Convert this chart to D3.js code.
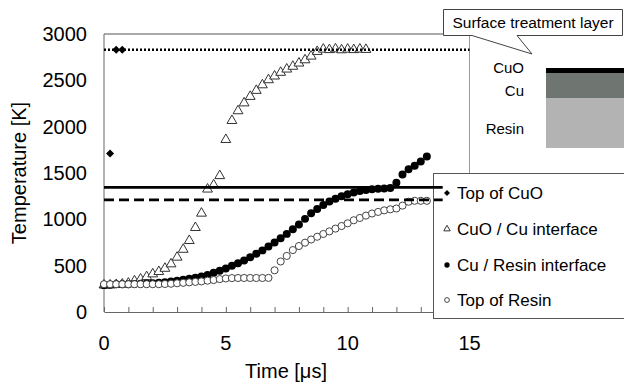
<!DOCTYPE html>
<html>
<head>
<meta charset="utf-8">
<title>Temperature vs time</title>
<script src="https://cdn.jsdelivr.net/npm/d3@7"></script>
<style>
  body { margin: 0; background: #fff; }
  text { font-family: "Liberation Sans", Arial, sans-serif; fill: #000; }
</style>
</head>
<body>
<svg id="chart" width="624" height="387"></svg>
<script>
// 1. data
var timeSteps = [0, 0.25, 0.5, 0.75, 1, 1.25, 1.5, 1.75, 2, 2.25,
  2.5, 2.75, 3, 3.25, 3.5, 3.75, 4, 4.25, 4.5, 4.75,
  5, 5.25, 5.5, 5.75, 6, 6.25, 6.5, 6.75, 7, 7.25,
  7.5, 7.75, 8, 8.25, 8.5, 8.75, 9, 9.25, 9.5, 9.75,
  10, 10.25, 10.5, 10.75, 11, 11.25, 11.5, 11.75, 12, 12.25,
  12.5, 12.75, 13, 13.25];

var topCuO = [300, 1710, 2830, 2830];

var cuoCuInterface = [290, 290, 295, 300, 310, 335, 355, 380, 410, 435,
  470, 518, 590, 675, 770, 910, 1065, 1325, 1370, 1470,
  1860, 2065, 2170, 2255, 2325, 2390, 2450, 2505, 2545, 2585,
  2620, 2650, 2685, 2720, 2760, 2810, 2835, 2830, 2838, 2828,
  2835, 2830, 2836, 2832];

var cuResinInterface = [290, 295, 300, 300, 300, 302, 305, 307, 310, 315,
  320, 328, 337, 347, 358, 370, 383, 400, 423, 446,
  470, 498, 527, 556, 592, 628, 665, 708, 750, 797,
  843, 893, 945, 1005, 1065, 1112, 1155, 1192, 1222, 1248,
  1270, 1290, 1306, 1317, 1324, 1329, 1332, 1337, 1395, 1485,
  1540, 1578, 1625, 1678];

var topResin = [300, 300, 300, 300, 300, 300, 300, 300, 300, 300,
  302, 305, 310, 315, 320, 325, 330, 338, 345, 355,
  362, 366, 367, 367, 367, 367, 367, 368, 450, 545,
  605, 668, 712, 748, 782, 812, 842, 870, 900, 928,
  957, 990, 1015, 1040, 1063, 1080, 1097, 1108, 1117, 1148,
  1190, 1200, 1200, 1200];

// horizontal reference levels [K] and where they stop [us]
var refLevels = [2830, 1345, 1210];
var refEnds = [15, 13.9, 13.9];
var refStyles = ["dotted", "solid", "dashed"];

var legendLabels = ["Top of CuO", "CuO / Cu interface", "Cu / Resin interface", "Top of Resin"];
var xTicks = [0, 5, 10, 15];
var yTicks = [0, 500, 1000, 1500, 2000, 2500, 3000];
var layerNames = ["CuO", "Cu", "Resin"];

// 2. layout
var plot = {left: 104, right: 469.5, top: 34, bottom: 312};

var x = d3.scaleLinear().domain([0, 15]).range([plot.left, plot.right]);
var y = d3.scaleLinear().domain([0, 3000]).range([plot.bottom, plot.top]);

var svg = d3.select("#chart");

// 3. frame
svg.append("line").attr("x1", plot.left).attr("x2", plot.right)
  .attr("y1", plot.top).attr("y2", plot.top).attr("stroke", "#555");
svg.append("line").attr("x1", plot.right).attr("x2", plot.right)
  .attr("y1", plot.top).attr("y2", plot.bottom).attr("stroke", "#999");

// x axis, ticks every 1 us pointing inward
var xAxis = svg.append("g")
  .attr("transform", "translate(0," + plot.bottom + ")")
  .call(d3.axisTop(x).ticks(15).tickSize(5).tickSizeOuter(0).tickFormat(""));
xAxis.select(".domain").attr("stroke", "#666");
xAxis.selectAll(".tick line").attr("stroke", "#666");

svg.append("g").selectAll("text").data(xTicks).enter().append("text")
  .attr("x", function(d) { return x(d); })
  .attr("y", 350)
  .attr("text-anchor", "middle")
  .style("font-size", "20px")
  .text(function(d) { return d; });

// y axis line, labels only
svg.append("line").attr("x1", plot.left).attr("x2", plot.left)
  .attr("y1", plot.top).attr("y2", plot.bottom).attr("stroke", "#666");
svg.append("g").selectAll("text").data(yTicks).enter().append("text")
  .attr("x", 87)
  .attr("y", function(d) { return y(d) + 7; })
  .attr("text-anchor", "end")
  .style("font-size", "20px")
  .text(function(d) { return d; });

svg.append("text")
  .attr("x", 286).attr("y", 378)
  .attr("text-anchor", "middle")
  .style("font-size", "20px")
  .text("Time [μs]");

svg.append("text")
  .attr("transform", "translate(26,173) rotate(-90)")
  .attr("text-anchor", "middle")
  .style("font-size", "20px")
  .text("Temperature [K]");

// 4. series
var sym = function(type, size) { return d3.symbol().type(type).size(size)(); };

// rot: 45 turns a square into the Excel-style diamond
function drawSeries(times, values, type, size, fill, stroke, rot) {
  svg.append("g").selectAll("path")
    .data(values).enter().append("path")
    .attr("d", sym(type, size))
    .attr("transform", function(d, i) {
      return "translate(" + x(times[i]) + "," + y(d) + ") rotate(" + (rot || 0) + ")";
    })
    .attr("fill", fill)
    .attr("stroke", stroke)
    .attr("stroke-width", 1);
}

drawSeries(timeSteps, topCuO, d3.symbolSquare, 32, "#000", "none", 45);
drawSeries(timeSteps, cuoCuInterface, d3.symbolTriangle, 42, "#fff", "#333");
drawSeries(timeSteps, cuResinInterface, d3.symbolCircle, 50, "#000", "none");
drawSeries(timeSteps, topResin, d3.symbolCircle, 40, "#fff", "#444");

// 5. legend
var lg = svg.append("g");
lg.append("rect").attr("x", 433.5).attr("y", 173.5).attr("width", 200).attr("height", 145)
  .attr("fill", "#fff").attr("stroke", "#555");
var legendSym = [
  {type: d3.symbolSquare, size: 18, fill: "#000", stroke: "none", rot: 45},
  {type: d3.symbolTriangle, size: 18, fill: "#fff", stroke: "#333", rot: 0},
  {type: d3.symbolCircle, size: 22, fill: "#000", stroke: "none", rot: 0},
  {type: d3.symbolCircle, size: 18, fill: "#fff", stroke: "#444", rot: 0}
];
var legendY = [193, 229, 265, 300];
legendLabels.forEach(function(label, i) {
  var s = legendSym[i];
  lg.append("path").attr("d", sym(s.type, s.size))
    .attr("transform", "translate(447," + legendY[i] + ") rotate(" + s.rot + ")")
    .attr("fill", s.fill).attr("stroke", s.stroke);
  lg.append("text").attr("x", 457).attr("y", legendY[i] + 6)
    .style("font-size", "17px").text(label);
});

// 6. reference lines
var dashFor = {dotted: "2,2", solid: null, dashed: "10,5"};
svg.append("g").selectAll("line").data(refLevels).enter().append("line")
  .attr("x1", x(0))
  .attr("x2", function(d, i) { return x(refEnds[i]); })
  .attr("y1", function(d) { return y(d); })
  .attr("y2", function(d) { return y(d); })
  .attr("stroke", "#000")
  .attr("stroke-width", function(d, i) { return refStyles[i] === "dotted" ? 2.5 : 2.8; })
  .attr("stroke-dasharray", function(d, i) { return dashFor[refStyles[i]]; });

// 7. inset: layer sketch with callout
var inset = svg.append("g");
inset.append("rect").attr("x", 546).attr("y", 98).attr("width", 80).attr("height", 50).attr("fill", "#b3b3b3");
inset.append("rect").attr("x", 546).attr("y", 73).attr("width", 80).attr("height", 25).attr("fill", "#6f7570");
inset.append("rect").attr("x", 546).attr("y", 68).attr("width", 80).attr("height", 5).attr("fill", "#000");

var layerY = [68, 91, 129];
inset.selectAll("text.layer").data(layerNames).enter().append("text")
  .attr("class", "layer")
  .attr("x", 524)
  .attr("y", function(d, i) { return layerY[i] + 5; })
  .attr("text-anchor", "end")
  .style("font-size", "15px")
  .text(function(d) { return d; });

inset.append("path")
  .attr("d", "M443.5,9.5 H622.5 V35.5 H517 L532,54 L472,35.5 H443.5 Z")
  .attr("fill", "#fff").attr("stroke", "#444");
inset.append("text").attr("x", 533).attr("y", 28)
  .attr("text-anchor", "middle")
  .style("font-size", "15.5px")
  .text("Surface treatment layer");
</script>
</body>
</html>
